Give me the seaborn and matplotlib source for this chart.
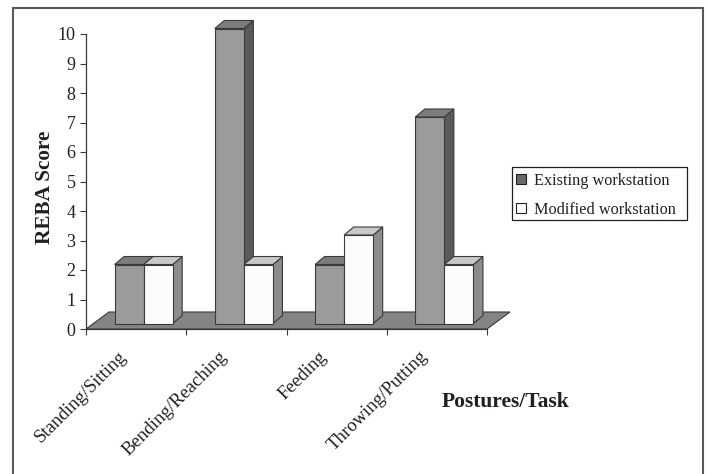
import matplotlib
matplotlib.use("Agg")
import matplotlib.pyplot as plt
import pandas as pd
import seaborn as sns
from matplotlib.patches import Polygon, Rectangle
from matplotlib.transforms import offset_copy

# ---- data -------------------------------------------------------------
tasks = ["Standing/Sitting", "Bending/Reaching", "Feeding", "Throwing/Putting"]
existing = [2, 10, 2, 7]
modified = [2, 2, 3, 2]
series = ["Existing workstation", "Modified workstation"]
y_ticks = list(range(0, 11))

df = pd.DataFrame({
    "Task": tasks * 2,
    "Score": existing + modified,
    "Series": [series[0]] * len(tasks) + [series[1]] * len(tasks),
})

# ---- style ------------------------------------------------------------
sns.set_style("white")
plt.rcParams["font.family"] = ["Liberation Serif", "DejaVu Serif"]
INK = "#231f20"
EDGE = "#3a3a3a"

front_col = {series[0]: "#9b9b9b", series[1]: "#fcfcfc"}
side_col = {series[0]: "#5a5a5a", series[1]: "#8c8c8c"}
top_col = {series[0]: "#7c7c7c", series[1]: "#c8c8c8"}

W, H = 708, 474
fig = plt.figure(figsize=(W / 100, H / 100), dpi=100)
ax = fig.add_axes([86 / W, 1 - 329 / H, 401 / W, 295 / H])

sns.barplot(data=df, x="Task", y="Score", hue="Series", palette=front_col,
            width=0.58, dodge=True, errorbar=None, legend=False, ax=ax,
            edgecolor=EDGE, linewidth=0.8)

ax.set_xlim(-0.5, len(tasks) - 0.5)
ax.set_ylim(0, 10)

# pixel -> data conversion for the pseudo-3D depth
p0 = ax.transData.transform((0, 0))
px_x = ax.transData.transform((1, 0))[0] - p0[0]
px_y = ax.transData.transform((0, 1))[1] - p0[1]

def dxy(px, py):
    return px / px_x, py / px_y

shift_x, shift_y = dxy(7.5, 5.5)      # bars sit a little back on the floor
bdx, bdy = dxy(9.5, 8.0)              # bar depth
fdx, fdy = dxy(23.0, 17.0)            # floor depth

# floor
floor = Polygon([(-0.5, 0), (len(tasks) - 0.5, 0),
                 (len(tasks) - 0.5 + fdx, fdy), (-0.5 + fdx, fdy)],
                closed=True, facecolor="#848484", edgecolor=EDGE,
                linewidth=0.8, zorder=1, clip_on=False)
ax.add_patch(floor)

# extrude each seaborn bar into a box
for k, (name, cont) in enumerate(zip(series, ax.containers)):
    for bar in cont:
        bar.set_x(bar.get_x() + shift_x)
        bar.set_y(shift_y)
        x0, w, h = bar.get_x(), bar.get_width(), bar.get_height()
        y0, y1 = shift_y, shift_y + h
        side = Polygon([(x0 + w, y0), (x0 + w, y1), (x0 + w + bdx, y1 + bdy),
                        (x0 + w + bdx, y0 + bdy)], closed=True,
                       facecolor=side_col[name], edgecolor=EDGE, linewidth=0.8,
                       zorder=2 + k, clip_on=False)
        top = Polygon([(x0, y1), (x0 + w, y1), (x0 + w + bdx, y1 + bdy),
                       (x0 + bdx, y1 + bdy)], closed=True,
                      facecolor=top_col[name], edgecolor=EDGE, linewidth=0.8,
                      zorder=2 + k, clip_on=False)
        ax.add_patch(side)
        ax.add_patch(top)
        bar.set_zorder(2.5 + k)
        bar.set_clip_on(False)

# axes
for s in ["top", "right"]:
    ax.spines[s].set_visible(False)
for s in ["left", "bottom"]:
    ax.spines[s].set_color(EDGE)
    ax.spines[s].set_linewidth(0.9)
    ax.spines[s].set_zorder(1.5)

ax.set_yticks(y_ticks)
ax.set_yticklabels([str(v) for v in y_ticks])
ax.tick_params(axis="y", direction="out", length=4.5, width=0.8, color=EDGE,
               pad=3, labelsize=13, labelcolor=INK, left=True)
ax.set_xticks([i - 0.5 for i in range(len(tasks) + 1)])
ax.set_xticklabels([])
ax.tick_params(axis="x", direction="out", length=4, width=0.8, color=EDGE,
               bottom=True)
ax.set_xlabel("")
ax.set_ylabel("")

lab_tr = offset_copy(ax.transData, fig=fig, x=-9, y=-28, units="dots")
for i, t in enumerate(tasks):
    ax.text(i, 0, t, transform=lab_tr, rotation=45, rotation_mode="anchor",
            ha="right", va="baseline", fontsize=13.5, color=INK)

fig.text(50 / W, 1 - 187 / H, "REBA Score", rotation=90, rotation_mode="anchor",
         ha="center", va="baseline", fontsize=15.3, fontweight="bold", color=INK)
fig.text(506 / W, 1 - 407 / H, "Postures/Task", ha="center", va="baseline",
         fontsize=15.5, fontweight="bold", color=INK)

# legend (entries) with its own rectangular box
handles = [Rectangle((0, 0), 1, 1, facecolor="#6a6a6a", edgecolor=INK, linewidth=0.8),
           Rectangle((0, 0), 1, 1, facecolor="white", edgecolor=INK, linewidth=0.8)]
leg = fig.legend(handles, series, loc="upper left",
                 bbox_to_anchor=(512 / W, 1 - 169 / H), frameon=False,
                 fontsize=11.7, handlelength=0.6,
                 handleheight=0.6, handletextpad=0.5, labelspacing=0.8,
                 borderpad=0.25, borderaxespad=0)
for txt in leg.get_texts():
    txt.set_color(INK)
fig.add_artist(Rectangle((512 / W, 1 - 220 / H), 175 / W, 53 / H,
                         transform=fig.transFigure, fill=False,
                         edgecolor=INK, linewidth=0.9))

# outer chart frame
fig.add_artist(Rectangle((13 / W, -0.05), 690 / W, 1.05 - 8 / H,
                         transform=fig.transFigure, fill=False,
                         edgecolor="#5a5a5a", linewidth=1.5))

fig.savefig("out.png", dpi=100)
